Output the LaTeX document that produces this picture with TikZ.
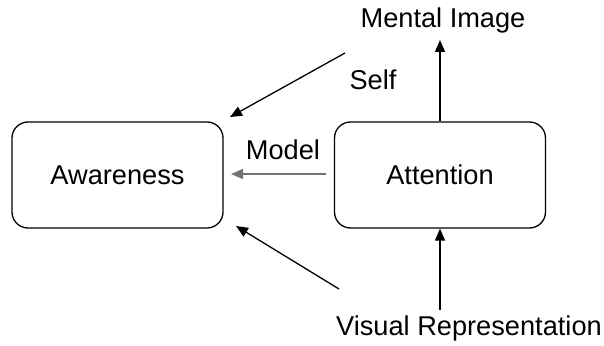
\documentclass[tikz,border=0pt]{standalone}
\usepackage{fontspec}
\setmainfont{Liberation Sans}
\usetikzlibrary{arrows.meta}
\begin{document}
\begin{tikzpicture}[x=1pt,y=-1pt,
  box/.style={draw, line width=1.3pt, rounded corners=16pt, minimum width=211pt, minimum height=106pt, inner sep=0pt, font=\fontsize{27.2}{32}\selectfont},
  lbl/.style={inner sep=0pt, font=\fontsize{27.2}{32}\selectfont},
  arr/.style={line width=1.3pt, -{Triangle[length=12pt,width=10pt]}}]
\useasboundingbox (0,0) rectangle (604,345);
\node[box] (aw) at (117.5,175) {Awareness};
\node[box] (at) at (440,175) {Attention};
\node[lbl] (mi) at (443,20) {Mental Image};
\node[lbl] (vr) at (469,328) {Visual Representation};
\node[lbl] (self) at (373,80) {Self};
\node[lbl] (model) at (283,150) {Model};
\coordinate (s1) at (345,53);
\coordinate (e1) at (230,117);
\coordinate (s2) at (339,289);
\coordinate (e2) at (236,226);
\coordinate (s3) at (326,174);
\coordinate (e3) at (231,174);
\coordinate (t1) at (440,40);
\coordinate (b1) at (440,310);
\draw[arr] (at.north) -- (t1);
\draw[arr] (b1) -- (at.south);
\draw[arr] (s1) -- (e1);
\draw[arr] (s2) -- (e2);
\draw[arr, draw=gray!90!black, fill=gray] (s3) -- (e3);
\end{tikzpicture}
\end{document}
